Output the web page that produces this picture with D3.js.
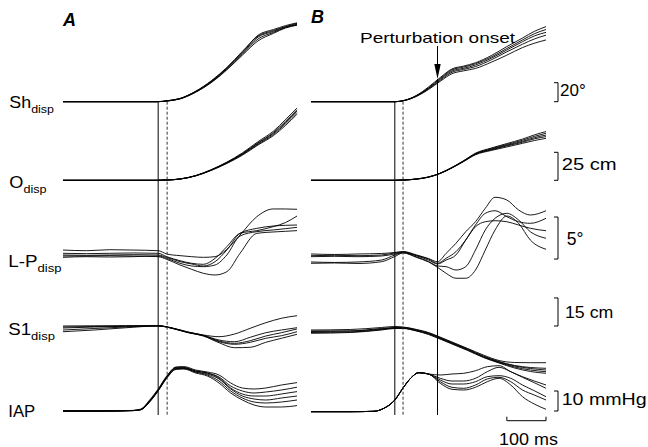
<!DOCTYPE html>
<html>
<head>
<meta charset="utf-8">
<script src="https://cdn.jsdelivr.net/npm/d3@7"></script>
<style>
  body { margin: 0; background: #fff; }
  text { font-family: "Liberation Sans", Arial, sans-serif; fill: #000; }
</style>
</head>
<body>
<svg id="chart" width="648" height="447"></svg>
<script>
// ---- data (time in ms from start of each panel window) ----
var rowLabels = ['Sh', 'O', 'L-P', 'S1', 'IAP'];
var rowSubs = ['disp', 'disp', 'disp', 'disp', ''];

// scale bars: value in the row's unit
var barValues = [20, 25, 5, 15, 10];
var barBase = [0, 0, -0.36, 0, 0];
var barLabels = ['20°', '25 cm', '5°', '15 cm', '10 mmHg'];
var timeBarMs = 100;
var timeBarLabel = '100 ms';

// event markers (ms)
var markersA = [244, 267];          // solid, dashed
var markersB = [214, 235, 323];     // solid, dashed, perturbation
var onsetLabel = 'Perturbation onset';

// --- panel A ---
var tShA = [0, 240, 270, 300, 340, 380, 420, 460, 500, 540, 570, 600];
var shA = [ // deg
  [0, 0, 1, 3.2, 10.5, 21, 35, 51, 68, 74, 78.6, 81.5],
  [0, 0, 1, 3, 10, 20.5, 34, 50, 66, 73, 78, 81],
  [0, 0, 1.2, 3.5, 11, 22, 36, 53, 69, 75, 79, 82.5],
  [0, 0, 0.8, 3, 10, 20, 33.5, 49, 64, 72, 77.5, 80.5],
  [0, 0, 1, 3.3, 10.8, 21.5, 35.5, 52, 70, 76, 80, 83]
];
var oA = [ // cm
  [0, 0, 0.3, 1.2, 4.2, 9.5, 16.2, 24.5, 34.5, 44, 54, 64.5],
  [0, 0, 0.3, 1.2, 4.1, 9.3, 15.9, 23.8, 33.5, 42.8, 52.5, 63],
  [0, 0, 0.3, 1.2, 4.1, 9.2, 15.7, 23.5, 33, 42, 51.4, 61.9],
  [0, 0, 0.3, 1.1, 4, 9, 15.4, 23, 32.2, 41, 50.2, 60.5],
  [0, 0, 0.3, 1.1, 3.9, 8.8, 15, 22.4, 31.5, 40, 48.8, 59]
];
var tLpA = [0, 60, 120, 180, 244, 266, 300, 330, 360, 390, 420, 454, 497, 539, 570, 600];
var lpA = [ // deg
  [0.71, 0.63, 0.75, 0.71, 0.63, 0.24, 0.04, -0.08, -0.16, -0.08, 0.79, 2.5, 4.68, 5.6, 5.6, 5.56],
  [0.32, 0.28, 0.32, 0.36, 0.32, -0.08, -0.56, -0.87, -0.99, -0.28, 1.11, 2.7, 3.02, 3.49, 3.97, 4.76],
  [0.12, 0.08, 0.12, 0.16, 0.12, -0.16, -0.67, -0.95, -1.19, -0.67, 0.71, 2.7, 3.29, 3.57, 3.65, 3.69],
  [-0.16, -0.08, -0.12, -0.08, 0, -0.28, -0.87, -1.19, -1.27, -1.07, 0.12, 2.38, 2.9, 3.1, 3.25, 3.41],
  [0, 0, 0.04, 0, -0.08, -0.4, -1.07, -1.59, -2.06, -2.26, -1.87, 0.32, 2.7, 2.86, 2.94, 3.02]
];
var tS1A = [0, 80, 160, 244, 280, 320, 360, 400, 440, 480, 520, 560, 600];
var s1A = [ // cm
  [0, 0.11, 0.16, 0.16, -1.07, -3.21, -4.81, -5.72, -4.28, -1.23, 1.76, 4.12, 5.51],
  [-1.07, -0.53, -0.16, 0.11, -1.07, -3.21, -4.97, -7.49, -8.4, -6.04, -3.58, -2.14, -0.91],
  [-2.14, -1.34, -0.53, 0.05, -1.18, -3.37, -5.08, -8.02, -9.25, -7.86, -5.35, -3.58, -1.6],
  [-3.05, -2.14, -0.96, 0, -1.23, -3.48, -5.24, -8.4, -9.79, -8.72, -6.58, -5.19, -3.05],
  [-0.53, -0.27, 0, 0.11, -1.28, -3.53, -5.35, -8.93, -11.6, -11.39, -8.72, -6.58, -4.44]
];
var tIapA = [0, 100, 180, 200, 220, 244, 266, 290, 310, 340, 370, 400, 430, 460, 490, 520, 560, 600];
var iapA = [ // mmHg
  [0, 0, 0.3, 1, 5, 11, 17.5, 22, 22.2, 20.5, 19.5, 18, 14, 11.5, 11, 11.5, 13, 14.2],
  [0, 0, 0.25, 0.8, 4.6, 10.6, 17.2, 21.8, 21.8, 20, 19, 17, 12.5, 10, 9, 9.5, 10.5, 11.9],
  [0, 0, 0.25, 0.75, 4.5, 10.5, 17, 21.5, 21.6, 20, 19, 16.5, 11.5, 8.5, 7.5, 7.5, 8.5, 9.7],
  [0, 0, 0.2, 0.7, 4.3, 10.3, 16.8, 21.2, 21.4, 19.5, 18.5, 16, 11, 7.5, 6, 5.5, 6.5, 7.5],
  [0, 0, 0.2, 0.7, 4.2, 10.2, 16.6, 21, 21.2, 19.5, 18, 15, 10, 6.5, 4.5, 4, 4.5, 5.5],
  [0, 0, 0.2, 0.6, 4, 10, 16.4, 20.8, 21, 19, 17.5, 14, 9, 5.5, 3, 2, 2, 2.7]
];

// --- panel B ---
var tShB = [0, 150, 214, 240, 270, 300, 330, 360, 390, 420, 460, 500, 540, 570, 600];
var shB = [
  [0, 0, 0, 1.6, 6.8, 15.5, 25.5, 34.5, 37.5, 41, 48.5, 58, 67, 74, 79],
  [0, 0, 0, 1.5, 6.5, 14.5, 24.5, 33.5, 36.5, 40, 47, 56, 65, 71.5, 76],
  [0, 0, 0, 1.5, 6.3, 14.1, 23.6, 32.3, 35.2, 38.6, 45.7, 54.4, 63.2, 69.2, 73],
  [0, 0, 0, 1.4, 6, 13.5, 22.5, 31, 34, 37, 44, 52.5, 60.5, 66, 70],
  [0, 0, 0, 1.3, 5.7, 12.8, 21.5, 29.5, 32.5, 35, 41.5, 49, 57, 61.5, 65]
];
var oB = [
  [0, 0, 0, 0.3, 1.2, 3, 6.4, 11.5, 17.6, 24.2, 28.8, 32.8, 36.8, 40.5, 43.5],
  [0, 0, 0, 0.3, 1.2, 2.9, 6.3, 11.4, 17.4, 23.8, 28.2, 32, 35.8, 39.2, 42],
  [0, 0, 0, 0.3, 1.2, 2.9, 6.3, 11.3, 17.2, 23.5, 27.7, 31.3, 34.8, 38, 40.4],
  [0, 0, 0, 0.3, 1.1, 2.8, 6.2, 11.2, 17, 23.2, 27.2, 30.7, 34, 37, 39],
  [0, 0, 0, 0.3, 1.1, 2.8, 6.1, 11, 16.8, 22.8, 26.6, 29.8, 33, 35.5, 37.5]
];
var tLpB = [0, 60, 120, 180, 214, 235, 270, 300, 323, 345, 370, 395, 420, 445, 470, 500, 530, 560, 600];
var lpB = [
  [0.24, 0.18, 0.24, 0.3, 0.42, 0.54, 0.12, -0.3, -0.68, 0.32, 1.51, 2.89, 4.08, 5.68, 6.99, 6.67, 5.48, 4.88, 5.39],
  [0.04, 0.08, 0.04, 0.12, 0.36, 0.48, 0, -0.48, -0.95, -0.48, 0.12, 1.9, 3.69, 5.08, 5.39, 4.68, 4.08, 3.89, 4.49],
  [-0.71, -0.77, -0.71, -0.48, 0.12, 0.42, -0.12, -0.65, -1.19, -1.27, -1.67, -1.27, 0.71, 3.1, 4.49, 5.08, 4.29, 2.89, 2.11],
  [-0.08, -0.04, -0.08, 0, 0.24, 0.42, 0.06, -0.36, -0.87, -0.27, 0.51, 1.9, 3.49, 4.08, 4.2, 4.08, 3.69, 3.3, 3.01],
  [-0.87, -0.83, -0.89, -0.68, -0.06, 0.36, -0.18, -0.71, -1.35, -2.06, -2.65, -2.65, -1.67, 0.71, 3.1, 4.76, 3.89, 1.9, 0.8]
];
var tS1B = [0, 100, 180, 214, 235, 270, 300, 323, 360, 400, 440, 480, 520, 560, 600];
var s1B = [
  [-2.14, -1.87, -0.8, -0.27, -0.53, -1.87, -3.48, -5.35, -8.56, -12.03, -15.51, -18.45, -19.52, -19.63, -19.63],
  [-2.94, -2.67, -1.34, -0.8, -0.8, -2.14, -3.74, -5.61, -8.82, -12.3, -16.04, -18.98, -21.12, -22.19, -22.62],
  [-3.48, -3.21, -1.87, -1.07, -1.07, -2.41, -4.01, -5.88, -9.09, -12.57, -16.31, -19.25, -21.39, -22.73, -23.53],
  [-3.9, -3.48, -2.14, -1.34, -1.34, -2.67, -4.28, -6.15, -9.36, -12.83, -16.58, -19.52, -21.93, -23.53, -24.44],
  [-2.67, -2.67, -1.6, -1.07, -1.18, -2.67, -4.55, -6.42, -9.63, -13.1, -16.84, -19.79, -22.46, -24.33, -25.29]
];
var tIapB = [0, 100, 160, 185, 214, 235, 255, 275, 300, 330, 360, 390, 420, 450, 480, 510, 540, 570, 600];
var iapB = [
  [-0.35, -0.35, -0.15, 1.25, 5.5, 11.5, 16.5, 19.15, 18.5, 18, 18.5, 18.85, 20.15, 22.15, 22.65, 19.65, 17.15, 15, 13],
  [-0.35, -0.35, -0.15, 1.25, 5.5, 11.5, 16.5, 19.15, 18.5, 16.35, 15, 15, 16.35, 19.65, 21.85, 19.65, 16.85, 14.15, 11.35],
  [-0.35, -0.35, -0.15, 1.25, 5.5, 11.5, 16.5, 19.15, 18.5, 15.5, 13.5, 13.5, 14.65, 17.15, 17.65, 16.35, 13, 10.15, 7.15],
  [-0.35, -0.35, -0.15, 1.25, 5.5, 11.5, 16.5, 19.15, 18.5, 14.65, 11.85, 11.35, 13, 16, 16.85, 14.65, 10.5, 8, 5.5],
  [-0.35, -0.35, -0.15, 1.25, 5.5, 11.5, 16.5, 19.15, 18.5, 13.85, 10.85, 10.5, 11.85, 14.65, 16.35, 13, 7.15, 3.5, 0.85]
];

// ---- layout ----
var svg = d3.select('#chart');
var xA = d3.scaleLinear().domain([0, 600]).range([63, 297]);
var xB = d3.scaleLinear().domain([0, 600]).range([311, 546]);

// baseline y and px per unit for each row
var rowBase = [101.7, 180.3, 256, 326, 411];
var rowK = [0.95, 1.12, 8.4, 1.87, 2];
var yRows = rowBase.map(function (b, i) {
    return d3.scaleLinear().domain([0, 1]).range([b, b - rowK[i]]);
});

var labelPos = [[9.3, 108.3, 44.7], [9.3, 188.3, 37.3], [8.3, 266.7, 53.3], [8.3, 335, 46.7], [8.3, 416.7, 27]];
// x, baseline, width (0 = natural), font size
var barTextPos = [[560, 95.5, 0, 17], [561.7, 170, 55, 16], [566.7, 245, 0, 17.5], [565, 318.3, 48.3, 16], [561.7, 405, 85, 16]];
var barX = 558;
var markTop = 101.7, markBottom = 415;

var panels = [
    {x: xA, times: [tShA, tShA, tLpA, tS1A, tIapA], sets: [shA, oA, lpA, s1A, iapA]},
    {x: xB, times: [tShB, tShB, tLpB, tS1B, tIapB], sets: [shB, oB, lpB, s1B, iapB]}
];

// traces
panels.forEach(function (p) {
    p.sets.forEach(function (trials, r) {
        var times = p.times[r];
        var line = d3.line()
            .x(function (d, i) { return p.x(times[i]); })
            .y(function (d) { return yRows[r](d); })
            .curve(d3.curveMonotoneX);
        svg.append('g').selectAll('path')
            .data(trials)
            .enter().append('path')
            .attr('d', line)
            .attr('fill', 'none')
            .attr('stroke', '#000')
            .attr('stroke-width', 0.9);
    });
});

// vertical event markers
function vline(x, y1, dashed) {
    svg.append('line')
        .attr('x1', x).attr('x2', x)
        .attr('y1', y1).attr('y2', markBottom)
        .attr('stroke', dashed ? '#333' : '#000')
        .attr('stroke-width', 1)
        .attr('stroke-dasharray', dashed ? '3,2' : null);
}
vline(xA(markersA[0]), markTop, false);
vline(xA(markersA[1]), markTop, true);
vline(xB(markersB[0]), markTop, false);
vline(xB(markersB[1]), markTop, true);

// perturbation onset line + arrow
var px = xB(markersB[2]);
vline(px, 79, false);
svg.append('line')
    .attr('x1', px).attr('x2', px).attr('y1', 46).attr('y2', 66)
    .attr('stroke', '#000').attr('stroke-width', 1);
svg.append('path')
    .attr('d', 'M' + (px - 3.2) + ',64 L' + (px + 3.2) + ',64 L' + px + ',79 Z')
    .attr('fill', '#000');
svg.append('text')
    .attr('x', 360).attr('y', 42.7)
    .attr('font-size', 15)
    .attr('textLength', 155).attr('lengthAdjust', 'spacingAndGlyphs')
    .text(onsetLabel);

// panel letters
svg.append('text').attr('x', 63).attr('y', 25.5)
    .attr('font-size', 18).attr('font-weight', 'bold').attr('font-style', 'italic').text('A');
svg.append('text').attr('x', 311).attr('y', 22.5)
    .attr('font-size', 18).attr('font-weight', 'bold').attr('font-style', 'italic').text('B');

// row labels
rowLabels.forEach(function (lab, i) {
    var t = svg.append('text')
        .attr('x', labelPos[i][0]).attr('y', labelPos[i][1])
        .attr('font-size', 16.5)
        .attr('textLength', labelPos[i][2]).attr('lengthAdjust', 'spacingAndGlyphs');
    t.append('tspan').text(lab);
    if (rowSubs[i]) {
        t.append('tspan').attr('font-size', 11.5).attr('dy', 5).text(rowSubs[i]);
    }
});

// scale bars
barValues.forEach(function (v, i) {
    var y = yRows[i];
    var y1 = y(barBase[i]), y2 = y(barBase[i] + v);
    svg.append('path')
        .attr('d', 'M' + (barX - 4) + ',' + y2 + 'H' + barX + 'V' + y1 + 'H' + (barX - 4))
        .attr('fill', 'none').attr('stroke', '#000').attr('stroke-width', 1);
    var t = svg.append('text')
        .attr('x', barTextPos[i][0]).attr('y', barTextPos[i][1])
        .attr('font-size', barTextPos[i][3])
        .text(barLabels[i]);
    if (barTextPos[i][2]) {
        t.attr('textLength', barTextPos[i][2]).attr('lengthAdjust', 'spacingAndGlyphs');
    }
});

// time bar
var tb1 = xB(600 - timeBarMs), tb2 = xB(600), tby = 420.7;
svg.append('path')
    .attr('d', 'M' + tb1 + ',' + (tby - 4) + 'V' + tby + 'H' + tb2 + 'V' + (tby - 4))
    .attr('fill', 'none').attr('stroke', '#000').attr('stroke-width', 1);
svg.append('text')
    .attr('x', 499).attr('y', 445)
    .attr('font-size', 16)
    .attr('textLength', 59).attr('lengthAdjust', 'spacingAndGlyphs')
    .text(timeBarLabel);
</script>
</body>
</html>
